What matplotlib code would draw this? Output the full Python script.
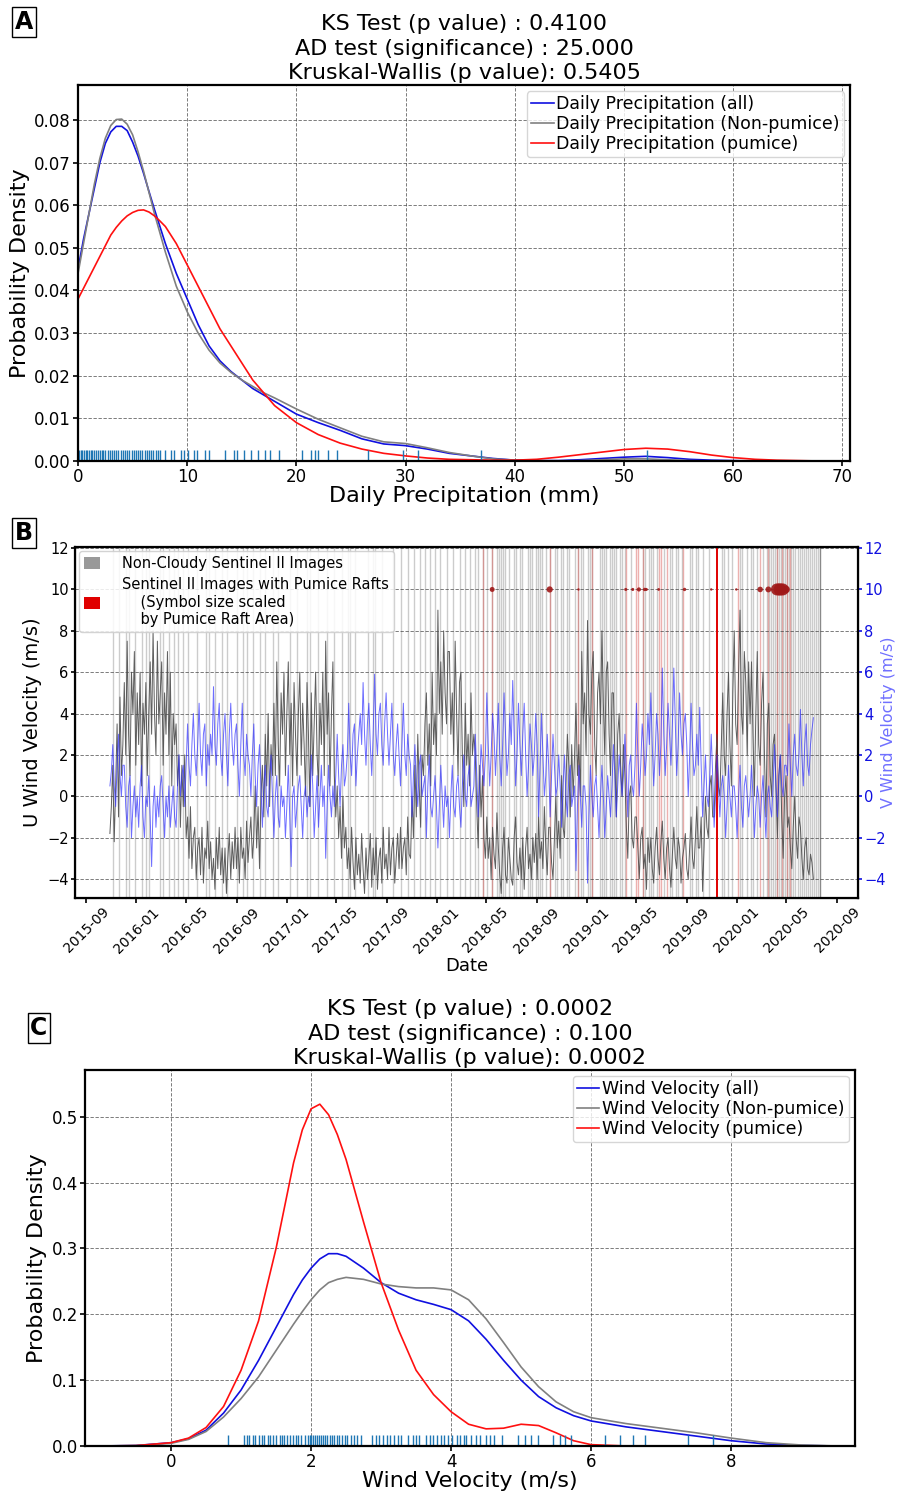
import numpy as np
import pandas as pd
import matplotlib
matplotlib.use('Agg')
import matplotlib.pyplot as plt
import matplotlib.dates as mdates
from matplotlib.patches import Patch

plt.rcParams['font.family'] = ['DejaVu Sans']

# ---------------- Panel A data (daily precipitation KDE) ----------------
precip_x = [0, 0.5, 1, 1.5, 2, 2.5, 3, 3.5, 4, 4.5, 5, 5.5, 6, 6.5, 7, 7.5, 8, 9, 10, 11, 12,
            13, 14, 15, 16, 17, 18, 19, 20, 22, 24, 26, 28, 30, 32, 34, 36, 38, 40, 42, 44,
            46, 48, 50, 52, 54, 56, 58, 60, 62, 64, 66, 68, 70]
precip_all = [0.045, 0.052, 0.058, 0.064, 0.070, 0.0745, 0.0772, 0.0785, 0.0785, 0.0775, 0.0748,
              0.0715, 0.0675, 0.0632, 0.059, 0.055, 0.051, 0.044, 0.038, 0.032, 0.027,
              0.0235, 0.021, 0.019, 0.017, 0.0155, 0.014, 0.0125, 0.011, 0.009, 0.0072, 0.0052,
              0.0040, 0.0036, 0.0028, 0.0018, 0.0012, 0.0006, 0.0002, 0.0001, 0.0001,
              0.0003, 0.0006, 0.0009, 0.0011, 0.0008, 0.0004, 0.0002, 0.0001, 0.0, 0.0, 0.0,
              0.0, 0.0]
precip_nonpumice = [0.044, 0.051, 0.058, 0.065, 0.071, 0.0757, 0.0787, 0.0801, 0.0802, 0.079,
                    0.0765, 0.0725, 0.068, 0.063, 0.058, 0.0535, 0.049, 0.041, 0.035, 0.030,
                    0.026, 0.023, 0.0208, 0.019, 0.0175, 0.016, 0.0148, 0.0135, 0.0122, 0.0098,
                    0.0078, 0.0058, 0.0045, 0.0041, 0.0031, 0.0020, 0.0012, 0.0005, 0.0002, 0.0,
                    0.0, 0.0001, 0.0003, 0.0005, 0.0005, 0.0003, 0.0001, 0.0, 0.0, 0.0, 0.0,
                    0.0, 0.0, 0.0]
precip_pumice = [0.038, 0.0405, 0.043, 0.0455, 0.048, 0.0505, 0.053, 0.0548, 0.0563, 0.0575,
                 0.0583, 0.0588, 0.0589, 0.0584, 0.0575, 0.0563, 0.055, 0.051, 0.046, 0.041,
                 0.036, 0.031, 0.027, 0.023, 0.019, 0.016, 0.013, 0.011, 0.009, 0.0062, 0.0042,
                 0.0028, 0.0018, 0.0012, 0.0007, 0.0004, 0.0003, 0.0002, 0.0002, 0.0004, 0.0009,
                 0.0015, 0.0021, 0.0027, 0.0030, 0.0028, 0.0022, 0.0014, 0.0008, 0.0004, 0.0002,
                 0.0001, 0.0, 0.0]
precip_rug = [0.1, 0.25, 0.4, 0.55, 0.7, 0.85, 1.0, 1.15, 1.3, 1.45, 1.6, 1.8, 2.0, 2.15, 2.3,
              2.5, 2.7, 2.9, 3.1, 3.3, 3.5, 3.7, 3.9, 4.1, 4.3, 4.5, 4.7, 4.9, 5.1, 5.3, 5.5,
              5.7, 5.9, 6.1, 6.3, 6.5, 6.7, 6.9, 7.1, 7.3, 7.5, 8.0, 8.5, 8.8, 9.4, 9.7, 10.1,
              10.6, 10.9, 11.6, 12.0, 13.5, 14.3, 14.6, 15.2, 15.8, 16.5, 17.1, 17.6, 18.4,
              20.5, 21.3, 21.7, 22.0, 22.9, 23.7, 26.6, 29.8, 31.1, 36.9, 52.1]

# ---------------- Panel B data (wind components twice a week, image dates) ----------------
wind_start = '2015-10-29'
wind_step = '84h'
u_wind = [-1.8, -0.5,
          1.5, -2.2, 0.5, 3.5, -1, 4.8, 1, 2.5,
          5.5, 2, 7.5, 3, 1, 6, 4, 7, 1.5, 5,
          2.5, 6, 0.5, 4.5, 3, 5.5, 1, 4,
          6.5, 3, 8, 4, 2, 7.5, 3.5, 5,
          6.5, 1.5, 5, 3, 7, 2, 6, 0.5, 4, 2.5,
          3.5, 0.5, 2, -1.5, 1.5, -0.5, 2, -2,
          -1, -3, -0.5, -3.5, -2, -1.5, -4, -2.5,
          -2, -3.8, -1.5, -4.2, -2.5, -3, -1.2, -3.5, -2.2, -4,
          -3, -4.5, -2, -3.5, -1.5, -3.8, -2.5, -4.2,
          -2.5, -4.7, -3, -1.8, -4, -2.2, -3.5, -1.5,
          -3.5, -2, -4.2, -1.5, -3, -2.5, -4, -1.2, -3.2, -2,
          -1, -3, -2, 0.5, -2.5, -0.5, -3.5, 0,
          1.5, -1, 3, 0.5, 4, -0.5, 2.5, 1,
          4.5, 1, 6.5, 2.5, 0.5, 5, 3, 6, 1, 4,
          6.5, 2, 4.5, 0.5, 5.5, 3, 1, 4,
          6, 1.5, 4.5, 2.5, 0, 5.5, 3, -0.5,
          5, 1, 3.5, 6, 2, 0.5, 4.5, 2.5, 6, 1,
          7.5, 3, 5, 0.5, 4, 6.5, 1, -1,
          0.5, -2, -0.5, -3, 0, -2.5, -1.5, -3.5,
          -2.5, -4, -1.5, -3.2, -4.5, -2, -3.8, -2.8, -4.2, -1.8,
          -3.5, -4.7, -2.5, -4, -3, -1.8, -4.4, -2.5,
          -3.8, -2, -4.5, -3, -2.5, -4.2, -1.5, -3.5, -2.8, -4,
          -1.5, -3.8, -2.5, -2, -4.2, -3, -1.8, -3.5,
          -1.5, -3.5, -2.5, -2, -3.8, -1, -2.8, -3,
          0, -2, 1.5, -1, 3, 0.5, -1.5, 2, 1, 3.5,
          5, 1.5, 3.5, 0.5, 6, 2.5, 4, 2,
          9, 4, 6.5, 3, 8, 5, 3.5, 7,
          7, 3, 5, 2, 7.5, 4, 1, 5.5,
          6, 2, -0.5, 4.5, 1.5, 3, 0.5, 5, 2, 3,
          2, -0.5, -2.5, 1.5, -1, 1, -2, -3,
          -1, -3, -2, -4, -1.5, -2.8, -3.5, -0.8, -2.5, -3.8,
          -4.7, -2.5, -1.5, -3.8, -4.2, -2, -3, -4,
          -4.3, -2, -1, -3.2, -3.8, -2.5, -4, -2,
          -4.5, -2.5, -1.5, -3.5, -2.8, -4, -2, -3.2, -1.8, -4,
          -1, -3, -2.2, -3.5, -0.5, -2.5, -3.8, -1.5,
          -1.5, -3.2, -4, -2, 0, -2.5, -1.2, -3,
          1, -1.5, -2, 0.5, 3, 1.5, -1, 2.5, 0, 2,
          4.5, 1, 2.5, 0, 7, 3.5, 5, 2,
          8.5, 4, 3, 6, 7, 2.5, 1, 5, 6, 3.5,
          8, 4.5, 2, 6, 6.5, 3, 1, 5,
          5, 2, -1, 3, 4, 1.5, 0, 2.5,
          1, -1.5, -3, 0, 0.5, -2, -2.5, -1,
          -1, -2.5, -4, -2, -1.5, -3.5, -2.8, -4.5, -2, -3.2,
          -2, -3.5, -4.2, -2.5, -1.5, -3, -3.8, -2.2,
          -1.2, -3, -4, -2.5, -2, -3.5, -4.4, -2.8,
          -1.5, -3, -3.5, -2, -2.5, -4.2, -3, -2.5, -1.8, -3.5,
          -4, -2.5, -1, -3, -3.5, -2, -0.5, -2.5,
          -2.5, -1, -4.6, -2.5, 0, -1.5, -2, 0.5, 1, -1,
          -1, 1.5, 3, 0.5, 0, 2.5, 5, 2,
          1, 4, 6, 2.5, 0.5, 5, 8, 3.5,
          2.5, 6, 9, 4, 3, 7, 5.5, 2, 6.5, 3.5,
          6.5, 3, 0, 4, 7, 2.5, 1.5, 4.5,
          6, 2, -1, 3.5, 4.5, 1, 0, 2.5,
          3, 0.5, -2, 1, 2, -1, -3, 0, 1, -1.5,
          -1, -2.5, -3.5, -1.5, 0, -2, -3, -1,
          -1.5, -3, -4, -2.5, -2, -3.5, -3.8, -2.8,
          -3.2, -4]
v_wind = [0.5, 1.2,
          2.5, 0.5, -0.5, 1.5, 3, 1, 0, 1.5,
          1.5, -0.5, -1.5, 0.5, 1, -2, -0.5, 0.5, -1, 0,
          -1.5, 0.5, 1.5, -1, -2, 0, -0.5, 1,
          -1, -3.4, -0.5, 0.5, -1.5, 0, -1, 0.5,
          1, -0.5, -2, 0, -1, 0.5, -1.5, -0.5, 0.5, -1,
          -1.5, 0.5, 2, 0, 1, 1.5, -0.5, 1.5,
          3.5, 1.5, 0.5, 2.5, 4, 2, 1, 2.5,
          4.5, 2, 1, 3, 3.5, 0.5, 2.5, 1.5, 3, 2,
          5.3, 2.5, 1.5, 3.5, 4.5, 2, 1, 3,
          4, 2, 0.5, 3, 4.5, 2.5, 1.5, 3,
          3.5, 1.5, 0, 2.5, 4.5, 2, 1, 3, 2, 1.5,
          0, 2, 3.5, 1, -0.5, 1.5, 2.5, 0.5,
          -1.5, 0.5, 1.5, -0.5, -1, 1, 2, 0,
          -2, 0, 1, -1, -1.5, 0.5, -0.5, 0, -2, -0.5,
          1.5, -1, -3.4, 0, 0.5, -1.5, -0.5, 0.5,
          1, -0.5, -2, 0, 0.5, -1, 0, -0.5,
          2, 0.5, -2, -0.5, 1, -1.5, 0, 1.5, -0.5, 0.5,
          -3, -0.5, 1.5, 0, -1, 0.5, -0.5, 1,
          3, 1, -0.5, 1.5, 2.5, 0.5, 1, 2,
          4.5, 2, 1, 3, 3.5, 0.5, 2, 3, 4, 2.5,
          5.5, 3, 1.5, 3.5, 4.5, 2.5, 1, 3,
          5.9, 3, 2, 4, 4.5, 2.5, 1.5, 3.5, 5, 3,
          1.5, 3, 4.5, 2, 1, 2.5, 3.5, 2,
          0.5, 2.5, 4.5, 2, 1, 3, 2, 1.5,
          -1, 1, 2.5, 0.5, -0.5, 1.5, 2, 0, 0.5, 1,
          -2, 0.5, 2, -0.5, -1, 0, 1, -0.5,
          -2.5, -0.5, 1.5, 0, -1.5, 0.5, -0.5, 0,
          -2, 0, 1.5, -0.5, -1, 0.5, 1, -0.5,
          -1.5, 0.5, 2, 0, -0.5, 1, 1.5, -0.5, 0, 0.5,
          3, 1, -1, 0.5, 2.5, 1.5, 0.5, 2,
          5, 2.5, 0.5, 2, 4, 3, 1, 2.5, 4.5, 2,
          0.5, 2.5, 5, 3, 1, 2, 4, 2.5,
          5.6, 3, 0.5, 2, 4.5, 2.5, 1, 3,
          4.5, 2, 0, 1.5, 3.5, 2.5, 1, 2, 4, 2.5,
          -1, 1.5, 4, 2, 0, 1, 3, 1.5,
          -1, 1, 3, 1.5, 0, 0.5, 2, 0.5,
          -1.5, 0.5, 2, 0, -1, 1, 1.5, -0.5, 0, 0.5,
          -3.6, -0.5, 1.5, 0, -1.5, 0.5, 0.5, -0.5,
          -4.2, -1, 1.5, 0, -1, 0.5, 1, -0.5, -2, 0,
          1.5, 0, -2, -0.5, 1, 0, -1, 0.5,
          2.5, 1, -1, 0.5, 2, 1, 0, 1,
          3, 1, -1, 1.5, 2, 0.5, 0, 1.5,
          4.5, 2, 0, 1.5, 3.5, 2.5, 1, 2, 4, 2.5,
          5, 2.5, 0.5, 2, 4, 3, 1, 2.5,
          6.2, 3, 1, 2.5, 4.5, 3, 1.5, 3.5,
          6.2, 3.5, 1, 2.5, 5, 3, 2, 3.5, 4, 2.5,
          0, 2, 4.5, 2.5, 1, 1.5, 3, 1.5,
          4.3, 1.5, -1, 0.5, 2, 0, -0.5, 1, 3, 1,
          -1.5, 0, 2, 0.5, -1, 0.5, 1, 0,
          -2, -0.5, 1.5, 0, -1, 0.5, 0.5, -0.5,
          -2, 0, 1.5, -0.5, -1.5, 0.5, 1, 0, -1, 0,
          1.5, 0, -2, -0.5, 0.5, 0, -1.5, 0,
          1, -0.5, -2, 0, 0.5, -0.5, -1, 0.5,
          2.5, 0.5, -1, 1, 2, 0.5, 0, 1.5, 1.5, 1,
          3.5, 1.5, 0, 2, 3, 1.5, 1, 2,
          4.2, 2, 0.5, 2.5, 3.5, 1.5, 1, 2.5,
          3.2, 3.8]

image_dates = ['2015-11-05', '2015-11-20', '2015-12-07', '2015-12-15', '2015-12-28', '2016-01-15',
               '2016-01-25', '2016-02-01', '2016-02-28', '2016-03-06', '2016-03-20', '2016-04-02',
               '2016-04-12', '2016-04-24', '2016-05-06', '2016-05-28', '2016-06-19', '2016-06-26',
               '2016-07-10', '2016-07-28', '2016-08-09', '2016-09-02', '2016-09-17', '2016-09-27',
               '2016-10-10', '2016-10-28', '2016-11-10', '2016-11-29', '2016-12-11', '2017-01-09',
               '2017-01-25', '2017-02-20', '2017-02-27', '2017-03-18', '2017-04-10', '2017-04-25',
               '2017-05-16', '2017-05-30', '2017-06-04', '2017-06-16', '2017-07-18', '2017-07-30',
               '2017-08-05', '2017-08-21', '2017-09-17', '2017-10-05', '2017-10-23', '2017-11-07',
               '2017-11-22', '2017-12-04', '2017-12-16', '2017-12-28', '2018-01-09', '2018-01-26',
               '2018-02-10', '2018-02-27', '2018-03-11', '2018-03-23', '2018-04-04', '2018-04-12',
               '2018-04-24', '2018-05-04', '2018-05-16', '2018-05-28', '2018-06-02', '2018-06-07',
               '2018-06-12', '2018-06-17', '2018-06-27', '2018-07-07', '2018-07-12', '2018-07-22',
               '2018-07-27', '2018-08-11', '2018-08-16', '2018-08-21', '2018-08-31', '2018-09-05',
               '2018-09-10', '2018-09-15', '2018-09-25', '2018-10-03', '2018-10-15', '2018-10-20',
               '2018-10-30', '2018-11-04', '2018-11-14', '2018-11-19', '2018-12-04', '2018-12-12',
               '2018-12-19', '2018-12-24', '2019-01-03', '2019-01-08', '2019-01-15', '2019-02-02',
               '2019-02-07', '2019-02-12', '2019-02-17', '2019-02-27', '2019-03-04', '2019-03-09',
               '2019-03-14', '2019-03-24', '2019-03-29', '2019-04-03', '2019-04-18', '2019-05-18',
               '2019-05-23', '2019-06-02', '2019-06-07', '2019-06-12', '2019-06-22', '2019-07-07',
               '2019-07-22', '2019-07-27', '2019-08-06', '2019-08-11', '2019-08-21', '2019-09-10',
               '2019-09-15', '2019-09-25', '2019-09-30', '2019-10-10', '2019-10-25', '2019-11-26',
               '2019-12-01', '2019-12-11', '2019-12-21', '2020-01-10', '2020-01-15', '2020-01-25',
               '2020-02-04', '2020-02-09', '2020-02-19', '2020-03-04', '2020-03-14', '2020-03-19',
               '2020-03-24', '2020-03-29', '2020-04-03', '2020-04-08', '2020-04-13', '2020-04-18',
               '2020-04-23', '2020-04-28', '2020-05-03', '2020-05-08', '2020-05-13', '2020-05-18',
               '2020-05-23', '2020-05-28', '2020-06-02', '2020-06-07', '2020-06-12', '2020-06-17',
               '2020-06-22', '2020-06-27', '2020-07-02', '2020-07-07', '2020-07-12', '2020-07-17']
last_image_date = ['2020-07-21']
pumice_line_dates = ['2018-04-24', '2018-05-16', '2018-10-03', '2018-12-12', '2019-01-15',
                     '2019-04-06', '2019-04-30', '2019-05-07', '2019-05-19', '2019-06-25',
                     '2019-06-30', '2019-07-16', '2019-08-24', '2020-01-03', '2020-02-27',
                     '2020-03-18', '2020-04-09', '2020-04-21', '2020-05-03', '2020-05-10']
pumice_strong_date = ['2019-11-15']
pumice_dot_dates = ['2018-05-16', '2018-10-03', '2018-12-12', '2019-04-06', '2019-04-23',
                    '2019-05-08', '2019-05-22', '2019-05-26', '2019-06-25', '2019-08-27',
                    '2019-10-31', '2019-12-31', '2020-02-27', '2020-03-18', '2020-04-08',
                    '2020-04-15', '2020-04-22', '2020-04-30']
pumice_raft_area = [13, 20, 3, 5, 5, 9, 6, 5, 4, 6, 3, 3, 16, 18, 75, 80, 75, 30]

# ---------------- Panel C data (wind velocity KDE) ----------------
wind_x = [-1.0, -0.5, 0.0, 0.25, 0.5, 0.75, 1.0, 1.25, 1.5, 1.75, 1.875, 2.0, 2.125, 2.25, 2.375,
          2.5, 2.75, 3.0, 3.25, 3.5, 3.75, 4.0, 4.25, 4.5, 4.75, 5.0, 5.25, 5.5, 5.75, 6.0,
          6.5, 7.0, 7.5, 8.0, 8.5, 9.0, 9.5]
wind_all = [0.0, 0.0007, 0.005, 0.011, 0.024, 0.05, 0.085, 0.13, 0.18, 0.23, 0.252, 0.27, 0.284,
            0.292, 0.292, 0.288, 0.27, 0.248, 0.232, 0.222, 0.215, 0.207, 0.19, 0.162, 0.13,
            0.10, 0.075, 0.058, 0.046, 0.038, 0.029, 0.022, 0.015, 0.008, 0.003, 0.0008, 0.0]
wind_nonpumice = [0.0, 0.0006, 0.004, 0.010, 0.022, 0.044, 0.072, 0.105, 0.145, 0.185, 0.204,
                  0.222, 0.237, 0.248, 0.253, 0.256, 0.253, 0.246, 0.242, 0.240, 0.240, 0.237,
                  0.222, 0.193, 0.157, 0.12, 0.09, 0.067, 0.052, 0.043, 0.034, 0.027, 0.020,
                  0.012, 0.005, 0.0015, 0.0]
wind_pumice = [0.0, 0.0005, 0.005, 0.012, 0.028, 0.06, 0.115, 0.19, 0.30, 0.43, 0.48, 0.512,
               0.519, 0.503, 0.473, 0.435, 0.34, 0.248, 0.176, 0.115, 0.078, 0.052, 0.033,
               0.026, 0.027, 0.033, 0.031, 0.02, 0.008, 0.002, 0.0, 0.0, 0.0, 0.0, 0.0, 0.0, 0.0]
wind_rug = [0.82, 1.04, 1.08, 1.12, 1.17, 1.2, 1.25, 1.3, 1.33, 1.38, 1.42, 1.46, 1.5, 1.55, 1.58,
            1.62, 1.66, 1.7, 1.74, 1.78, 1.82, 1.85, 1.92, 1.95, 1.98, 2.0, 2.03, 2.06, 2.08,
            2.11, 2.14, 2.17, 2.2, 2.23, 2.27, 2.3, 2.33, 2.37, 2.4, 2.44, 2.48, 2.52, 2.57,
            2.62, 2.66, 2.71, 2.87, 2.93, 2.97, 3.03, 3.08, 3.13, 3.18, 3.24, 3.29, 3.39, 3.45,
            3.5, 3.54, 3.64, 3.7, 3.74, 3.8, 3.85, 3.9, 3.96, 4.02, 4.08, 4.13, 4.19, 4.22,
            4.28, 4.35, 4.42, 4.5, 4.56, 4.62, 4.73, 4.95, 5.05, 5.14, 5.24, 5.46, 5.55, 5.63,
            5.71, 6.2, 6.41, 6.6, 6.77, 7.39, 7.74]

# ---------------- Figure ----------------
fig = plt.figure(figsize=(9, 14.91), dpi=100)

GRID = dict(color='0.25', linestyle=(0, (4, 2)), linewidth=0.6, alpha=0.8)
BLUE, GRAY, RED = '#1010e0', '#808080', '#ff1010'
RUG = '#1f77b4'
TITLE_KW = dict(fontsize=16, pad=4, linespacing=1.3)
LEG_KW = dict(loc='upper right', fontsize=12.5, handlelength=1.3, handletextpad=0.15,
              labelspacing=0.1, borderpad=0.25, borderaxespad=0.35)


def panel_letter(x, y, s):
    fig.text(x, y, s, fontsize=17, fontweight='bold', ha='center', va='center',
             bbox=dict(facecolor='white', edgecolor='black', boxstyle='square,pad=0.12', lw=1))


def style_axes(ax):
    for sp in ax.spines.values():
        sp.set_linewidth(1.6)
    ax.tick_params(labelsize=12, width=1.2, length=3.5, pad=1.5)


# ---- Panel A ----
axA = fig.add_axes([0.0867, 0.6908, 0.8578, 0.2522])
axA.plot(precip_x, precip_all, color=BLUE, lw=1.2, label='Daily Precipitation (all)')
axA.plot(precip_x, precip_nonpumice, color=GRAY, lw=1.2, label='Daily Precipitation (Non-pumice)')
axA.plot(precip_x, precip_pumice, color=RED, lw=1.2, label='Daily Precipitation (pumice)')
axA.vlines(precip_rug, 0, 0.03, transform=axA.get_xaxis_transform(), color=RUG, lw=1)
axA.set_xlim(0, 70.7)
axA.set_ylim(0, 0.0882)
axA.set_xticks(np.arange(0, 71, 10))
axA.set_yticks(np.arange(0, 0.081, 0.01))
axA.yaxis.set_major_formatter(matplotlib.ticker.FormatStrFormatter('%.2f'))
axA.grid(True, **GRID)
style_axes(axA)
axA.set_xlabel('Daily Precipitation (mm)', fontsize=16, labelpad=0)
axA.set_ylabel('Probability Density', fontsize=16, labelpad=3)
axA.set_title('KS Test (p value) : 0.4100\nAD test (significance) : 25.000\nKruskal-Wallis (p value): 0.5405',
              **TITLE_KW)
axA.legend(**LEG_KW)
panel_letter(0.0267, 0.9852, 'A')

# ---- Panel B ----
axB = fig.add_axes([0.0833, 0.3977, 0.87, 0.2354])
xt = axB.get_xaxis_transform()
axB.vlines(mdates.date2num(pd.to_datetime(image_dates)), 0, 1, transform=xt,
           color='#cccccc', lw=1.0, zorder=1)
axB.vlines(mdates.date2num(pd.to_datetime(last_image_date)), 0, 1, transform=xt,
           color='#8a8a8a', lw=1.0, zorder=1)
axB.vlines(mdates.date2num(pd.to_datetime(pumice_line_dates)), 0, 1, transform=xt,
           color='#d9534f', alpha=0.45, lw=1.0, zorder=1.5)
axB.vlines(mdates.date2num(pd.to_datetime(pumice_strong_date)), 0, 1, transform=xt,
           color='#e00000', lw=1.4, zorder=1.6)
u_dates = pd.date_range(wind_start, periods=len(u_wind), freq=wind_step)
v_dates = pd.date_range(wind_start, periods=len(v_wind), freq=wind_step)
axB.plot(u_dates, u_wind, color='#4d4d4d', lw=0.7, alpha=0.9, zorder=2)
axB.scatter(pd.to_datetime(pumice_dot_dates), [10] * len(pumice_dot_dates),
            s=np.array(pumice_raft_area) * 1.0, color='#a01818', alpha=0.9, zorder=4, lw=0)
axB.set_ylim(-4.92, 12.05)
axB.set_yticks(np.arange(-4, 13, 2))
axB.set_xlim(mdates.date2num(pd.Timestamp('2015-08-05')), mdates.date2num(pd.Timestamp('2020-10-22')))
axB.xaxis.set_major_locator(mdates.MonthLocator(bymonth=[1, 5, 9]))
axB.xaxis.set_major_formatter(mdates.DateFormatter('%Y-%m'))
axB.grid(True, axis='y', **GRID)
for sp in axB.spines.values():
    sp.set_linewidth(1.6)
axB.tick_params(axis='y', labelsize=10.5, width=1.2, length=3, pad=1.5)
axB.tick_params(axis='x', labelsize=10, width=1.2, length=3.5, pad=1.5)
for lab in axB.get_xticklabels():
    lab.set_rotation(45)
    lab.set_ha('center')
axB.set_xlabel('Date', fontsize=13, labelpad=1)
axB.set_ylabel('U Wind Velocity (m/s)', fontsize=14, labelpad=4)

axB2 = axB.twinx()
axB2.plot(v_dates, v_wind, color='#3030ff', lw=0.7, alpha=0.7, zorder=3)
axB2.set_ylim(-4.92, 12.05)
axB2.set_yticks(np.arange(-4, 13, 2))
axB2.tick_params(axis='y', labelsize=10.5, colors='#1010e0', width=1.2, length=3, pad=1.5)
axB2.set_ylabel('V Wind Velocity (m/s)', fontsize=11.5, color='#7070ff')
axB2.yaxis.set_label_coords(1.0 + (881 - 858) / 783.0, 0.5)
leg_handles = [Patch(facecolor='#999999', edgecolor='none'), Patch(facecolor='#e00000', edgecolor='none')]
leg_labels = ['Non-Cloudy Sentinel II Images',
              'Sentinel II Images with Pumice Rafts\n    (Symbol size scaled\n    by Pumice Raft Area)']
axB2.legend(leg_handles, leg_labels, loc='upper left', fontsize=10.5, handlelength=1.15,
            handleheight=0.85, handletextpad=1.5, labelspacing=0.45, borderpad=0.3,
            borderaxespad=0.3, framealpha=0.85)
panel_letter(0.0267, 0.6425, 'B')

# ---- Panel C ----
axC = fig.add_axes([0.0944, 0.0302, 0.8556, 0.2522])
axC.plot(wind_x, wind_all, color=BLUE, lw=1.2, label='Wind Velocity (all)')
axC.plot(wind_x, wind_nonpumice, color=GRAY, lw=1.2, label='Wind Velocity (Non-pumice)')
axC.plot(wind_x, wind_pumice, color=RED, lw=1.2, label='Wind Velocity (pumice)')
axC.vlines(wind_rug, 0, 0.03, transform=axC.get_xaxis_transform(), color=RUG, lw=1)
axC.set_xlim(-1.23, 9.77)
axC.set_ylim(0, 0.571)
axC.set_xticks([0, 2, 4, 6, 8])
axC.set_yticks(np.arange(0, 0.51, 0.1))
axC.yaxis.set_major_formatter(matplotlib.ticker.FormatStrFormatter('%.1f'))
axC.grid(True, **GRID)
style_axes(axC)
axC.set_xlabel('Wind Velocity (m/s)', fontsize=16, labelpad=0)
axC.set_ylabel('Probability Density', fontsize=16, labelpad=3)
axC.set_title('KS Test (p value) : 0.0002\nAD test (significance) : 0.100\nKruskal-Wallis (p value): 0.0002',
              **TITLE_KW)
axC.legend(**LEG_KW)
panel_letter(0.0433, 0.3105, 'C')

fig.savefig('out.png', dpi=100)
